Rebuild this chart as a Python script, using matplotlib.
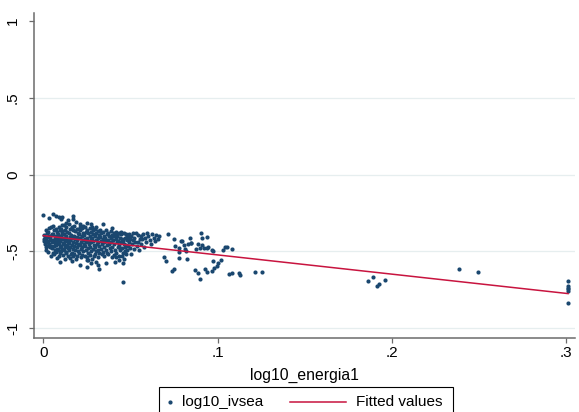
import matplotlib
matplotlib.use("Agg")
from matplotlib import pyplot as plt
from matplotlib.lines import Line2D
from matplotlib.patches import Rectangle

plt.rcParams['font.family'] = ['Liberation Sans', 'DejaVu Sans']

# scatter points (log10_energia1, log10_ivsea)
core_left = [
    (0.0004, -0.392), (0.0008, -0.414), (0.0002, -0.433), (0.0011, -0.452), (0.0006, -0.421), (0.0013, -0.471),
    (0.0017, -0.362), (0.0021, -0.403), (0.0014, -0.424), (0.0019, -0.441), (0.0024, -0.462), (0.0016, -0.488), (0.0023, -0.381),
    (0.0031, -0.348), (0.0027, -0.373), (0.0035, -0.398), (0.0029, -0.431), (0.0033, -0.452), (0.0038, -0.469), (0.0026, -0.503), (0.0036, -0.412),
    (0.0044, -0.338), (0.0049, -0.383), (0.0041, -0.401), (0.0047, -0.422), (0.0052, -0.438), (0.0043, -0.461), (0.0048, -0.479), (0.0054, -0.512), (0.0046, -0.527),
    (0.0058, -0.331), (0.0063, -0.362), (0.0057, -0.388), (0.0065, -0.409), (0.0061, -0.428), (0.0068, -0.447), (0.0059, -0.466), (0.0066, -0.493), (0.0062, -0.518),
    (0.0073, -0.352), (0.0078, -0.371), (0.0071, -0.397), (0.0076, -0.418), (0.0081, -0.439), (0.0074, -0.458), (0.0079, -0.482), (0.0072, -0.502), (0.0077, -0.541), (0.0083, -0.384),
    (0.0088, -0.342), (0.0093, -0.363), (0.0086, -0.392), (0.0091, -0.412), (0.0096, -0.431), (0.0089, -0.449), (0.0094, -0.472), (0.0087, -0.493), (0.0098, -0.511), (0.0092, -0.532),
    (0.0103, -0.351), (0.0108, -0.379), (0.0101, -0.401), (0.0106, -0.419), (0.0111, -0.442), (0.0104, -0.461), (0.0109, -0.483), (0.0102, -0.498), (0.0113, -0.521), (0.0107, -0.368),
    (0.0118, -0.328), (0.0123, -0.361), (0.0116, -0.388), (0.0121, -0.409), (0.0126, -0.429), (0.0119, -0.452), (0.0124, -0.471), (0.0117, -0.489), (0.0128, -0.507), (0.0122, -0.548),
    (0.0133, -0.343), (0.0138, -0.372), (0.0131, -0.398), (0.0136, -0.418), (0.0141, -0.438), (0.0134, -0.459), (0.0139, -0.478), (0.0132, -0.502), (0.0143, -0.529),
    (0.0148, -0.318), (0.0153, -0.351), (0.0146, -0.382), (0.0151, -0.407), (0.0156, -0.428), (0.0149, -0.447), (0.0154, -0.468), (0.0147, -0.491), (0.0158, -0.518), (0.0152, -0.541),
    (0.0163, -0.338), (0.0168, -0.362), (0.0161, -0.391), (0.0166, -0.413), (0.0171, -0.437), (0.0164, -0.458), (0.0169, -0.481), (0.0162, -0.508), (0.0173, -0.532),
]
core_mid = [
    (0.0178, -0.331), (0.0183, -0.369), (0.0176, -0.398), (0.0181, -0.421), (0.0186, -0.442), (0.0179, -0.461), (0.0184, -0.489), (0.0177, -0.517), (0.0188, -0.552),
    (0.0193, -0.352), (0.0198, -0.381), (0.0191, -0.403), (0.0196, -0.428), (0.0201, -0.449), (0.0194, -0.472), (0.0199, -0.498), (0.0192, -0.528),
    (0.0208, -0.341), (0.0213, -0.362), (0.0206, -0.389), (0.0211, -0.411), (0.0216, -0.438), (0.0209, -0.459), (0.0214, -0.482), (0.0207, -0.509), (0.0218, -0.538),
    (0.0223, -0.349), (0.0228, -0.378), (0.0221, -0.401), (0.0226, -0.422), (0.0231, -0.451), (0.0224, -0.469), (0.0229, -0.497), (0.0222, -0.521),
    (0.0238, -0.341), (0.0243, -0.372), (0.0236, -0.392), (0.0241, -0.418), (0.0246, -0.439), (0.0239, -0.462), (0.0244, -0.488), (0.0237, -0.529), (0.0248, -0.557),
    (0.0253, -0.358), (0.0258, -0.382), (0.0251, -0.409), (0.0256, -0.431), (0.0261, -0.452), (0.0254, -0.478), (0.0259, -0.508), (0.0252, -0.538),
    (0.0268, -0.348), (0.0273, -0.371), (0.0266, -0.398), (0.0271, -0.419), (0.0276, -0.441), (0.0269, -0.468), (0.0274, -0.497), (0.0267, -0.521),
    (0.0283, -0.359), (0.0288, -0.388), (0.0281, -0.412), (0.0286, -0.432), (0.0291, -0.458), (0.0284, -0.482), (0.0289, -0.528), (0.0282, -0.548),
    (0.0298, -0.351), (0.0303, -0.378), (0.0296, -0.401), (0.0301, -0.422), (0.0306, -0.449), (0.0299, -0.471), (0.0304, -0.499), (0.0297, -0.519),
    (0.0313, -0.368), (0.0318, -0.391), (0.0311, -0.412), (0.0316, -0.438), (0.0321, -0.461), (0.0314, -0.489), (0.0319, -0.512), (0.0312, -0.538),
    (0.0328, -0.358), (0.0333, -0.381), (0.0326, -0.408), (0.0331, -0.429), (0.0336, -0.452), (0.0329, -0.481), (0.0334, -0.518),
]
core_right = [
    (0.0343, -0.372), (0.0348, -0.398), (0.0341, -0.419), (0.0346, -0.441), (0.0351, -0.468), (0.0344, -0.501), (0.0349, -0.528),
    (0.0358, -0.361), (0.0363, -0.389), (0.0356, -0.412), (0.0361, -0.432), (0.0366, -0.458), (0.0359, -0.488), (0.0364, -0.511),
    (0.0373, -0.381), (0.0378, -0.401), (0.0371, -0.422), (0.0376, -0.449), (0.0381, -0.478), (0.0374, -0.518),
    (0.0388, -0.369), (0.0393, -0.392), (0.0386, -0.412), (0.0391, -0.441), (0.0396, -0.469), (0.0389, -0.498), (0.0394, -0.538),
    (0.0403, -0.378), (0.0408, -0.401), (0.0401, -0.428), (0.0406, -0.451), (0.0411, -0.488), (0.0404, -0.521),
    (0.0418, -0.371), (0.0423, -0.392), (0.0416, -0.418), (0.0421, -0.441), (0.0426, -0.468), (0.0419, -0.508),
    (0.0433, -0.381), (0.0438, -0.409), (0.0431, -0.429), (0.0436, -0.458), (0.0441, -0.491), (0.0434, -0.528),
    (0.0448, -0.388), (0.0453, -0.418), (0.0446, -0.441), (0.0451, -0.478), (0.0456, -0.509),
    (0.0463, -0.379), (0.0468, -0.411), (0.0461, -0.448), (0.0466, -0.469), (0.0471, -0.498), (0.0464, -0.548),
    (0.0478, -0.398), (0.0483, -0.428), (0.0476, -0.458), (0.0481, -0.488),
    (0.0493, -0.389), (0.0498, -0.418), (0.0491, -0.438), (0.0496, -0.478), (0.0501, -0.518),
    (0.0512, -0.381), (0.0521, -0.409), (0.0528, -0.438), (0.0535, -0.462), (0.0541, -0.392), (0.0553, -0.421),
    (0.0561, -0.448), (0.0572, -0.388), (0.0584, -0.412), (0.0591, -0.441), (0.0603, -0.398), (0.0612, -0.428),
    (0.0624, -0.389), (0.0635, -0.412), (0.0648, -0.392), (0.0659, -0.421), (0.0666, -0.401), (0.0578, -0.471),
    (0.0548, -0.489), (0.0518, -0.481),
    (0.0425, -0.402), (0.0445, -0.372), (0.0458, -0.432), (0.0472, -0.388), (0.0487, -0.408), (0.0505, -0.398),
    (0.0515, -0.428), (0.0532, -0.378), (0.0545, -0.441), (0.0558, -0.398), (0.0568, -0.418), (0.0596, -0.381),
    (0.0618, -0.448), (0.0642, -0.431), (0.0487, -0.462), (0.0509, -0.452), (0.0438, -0.478), (0.0452, -0.532),
    (0.0475, -0.518), (0.0415, -0.538),
]
top_pts = [
    (0.0000, -0.262), (0.0030, -0.279), (0.0057, -0.258), (0.0073, -0.268), (0.0092, -0.274), (0.0110, -0.275),
    (0.0099, -0.290), (0.0169, -0.270), (0.0172, -0.290), (0.0106, -0.330), (0.0133, -0.313), (0.0190, -0.305),
    (0.0210, -0.320), (0.0228, -0.335), (0.0251, -0.312), (0.0272, -0.320), (0.0282, -0.338), (0.0344, -0.323),
    (0.0144, -0.298), (0.0395, -0.345), (0.0305, -0.341),
]
bottom_pts = [
    (0.0095, -0.566), (0.0210, -0.588), (0.0248, -0.599), (0.0276, -0.577), (0.0305, -0.566), (0.0314, -0.588),
    (0.0320, -0.614), (0.0360, -0.577), (0.0258, -0.555), (0.0165, -0.562), (0.0410, -0.566), (0.0456, -0.573),
    (0.0456, -0.700), (0.0435, -0.557),
]
mid_pts = [
    (0.0717, -0.383), (0.0750, -0.420), (0.0789, -0.430), (0.0798, -0.432), (0.0840, -0.414), (0.0904, -0.381),
    (0.0910, -0.410), (0.0940, -0.404), (0.0847, -0.443), (0.0830, -0.453), (0.0850, -0.446), (0.0876, -0.483),
    (0.0899, -0.476), (0.0940, -0.476), (0.0970, -0.490), (0.1055, -0.470), (0.1080, -0.486), (0.1042, -0.469),
    (0.1032, -0.490), (0.0780, -0.476), (0.0780, -0.505), (0.0820, -0.498), (0.0690, -0.535), (0.0704, -0.560),
    (0.0778, -0.540), (0.0822, -0.551), (0.0975, -0.560), (0.1000, -0.573), (0.1020, -0.556), (0.0994, -0.595),
    (0.0980, -0.606), (0.0868, -0.620), (0.0886, -0.638), (0.0900, -0.680), (0.0927, -0.612), (0.0940, -0.634),
    (0.0966, -0.628), (0.0740, -0.628), (0.0750, -0.617), (0.1066, -0.646), (0.1080, -0.638), (0.1123, -0.638),
    (0.1126, -0.653), (0.1213, -0.634), (0.1255, -0.632), (0.0758, -0.464), (0.0806, -0.458), (0.0812, -0.484),
    (0.0889, -0.451), (0.0908, -0.458), (0.0923, -0.475), (0.0946, -0.469), (0.0975, -0.495),
]
far_pts = [
    (0.1864, -0.690), (0.1893, -0.664), (0.1912, -0.722), (0.1927, -0.711), (0.1958, -0.685),
    (0.2386, -0.616), (0.2495, -0.635),
    (0.3010, -0.692), (0.3010, -0.724), (0.3010, -0.735), (0.3010, -0.746), (0.3010, -0.757), (0.3010, -0.833),
]

# fitted values (linear fit as drawn)
fit_x = [0.0, 0.30103]
fit_y = [-0.397, -0.774]

x_ticks = [0, 0.1, 0.2, 0.3]
x_ticklabels = ['0', '.1', '.2', '.3']
y_ticks = [-1, -0.5, 0, 0.5, 1]
y_ticklabels = ['-1', '-.5', '0', '.5', '1']

navy = '#1a476f'
red = '#c8143f'
gray = '#6b6b6b'

W, H = 579, 412
fig = plt.figure(figsize=(W / 100, H / 100), dpi=100)
ax = fig.add_axes([33.7 / W, 1 - 337.7 / H, (575 - 33.7) / W, (337.7 - 12.7) / H])

pts = core_left + core_mid + core_right + top_pts + bottom_pts + mid_pts + far_pts
xs, ys = zip(*pts)
ax.scatter(xs, ys, s=9, color=navy, linewidths=0, zorder=3)
ax.plot(fit_x, fit_y, color=red, lw=1.1, zorder=4)

ax.set_xlim(-0.0055, 0.305)
ax.set_ylim(-1.061, 1.054)
ax.set_xticks(x_ticks, x_ticklabels)
ax.set_yticks(y_ticks, y_ticklabels)
ax.grid(axis='y', color='#e6eeef', lw=0.9, zorder=0)
ax.yaxis.get_gridlines()[-1].set_visible(False)

for s in ('top', 'right'):
    ax.spines[s].set_visible(False)
for s in ('left', 'bottom'):
    ax.spines[s].set_color(gray)
    ax.spines[s].set_linewidth(1.1)
ax.tick_params(axis='both', color=gray, length=3.8, width=0.9, labelsize=11, labelcolor='black')
ax.tick_params(axis='x', pad=2.5)
ax.tick_params(axis='y', pad=6)
for lab in ax.get_yticklabels():
    lab.set_rotation(90)
    lab.set_va('center')

ax.set_xlabel('log10_energia1', fontsize=11.3, labelpad=5)

# legend box below the plot, cut by the bottom edge
def fx(px):
    return px / W


def fy(py):
    return 1 - py / H


fig.add_artist(Rectangle((fx(159.3), fy(430)), fx(453) - fx(159.3), fy(387.3) - fy(430),
                         transform=fig.transFigure, fill=False, edgecolor='black', lw=0.8))
ly = fy(401.7)
fig.add_artist(Line2D([fx(170)], [ly], marker='o', markersize=2, color=navy, lw=0,
                      transform=fig.transFigure))
fig.text(fx(181.7), ly, 'log10_ivsea', fontsize=11, va='center', ha='left')
fig.add_artist(Line2D([fx(290), fx(346)], [ly, ly], color=red, lw=1.1, transform=fig.transFigure))
fig.text(fx(356), ly, 'Fitted values', fontsize=11, va='center', ha='left')

fig.savefig('out.png', dpi=100, facecolor='white')
